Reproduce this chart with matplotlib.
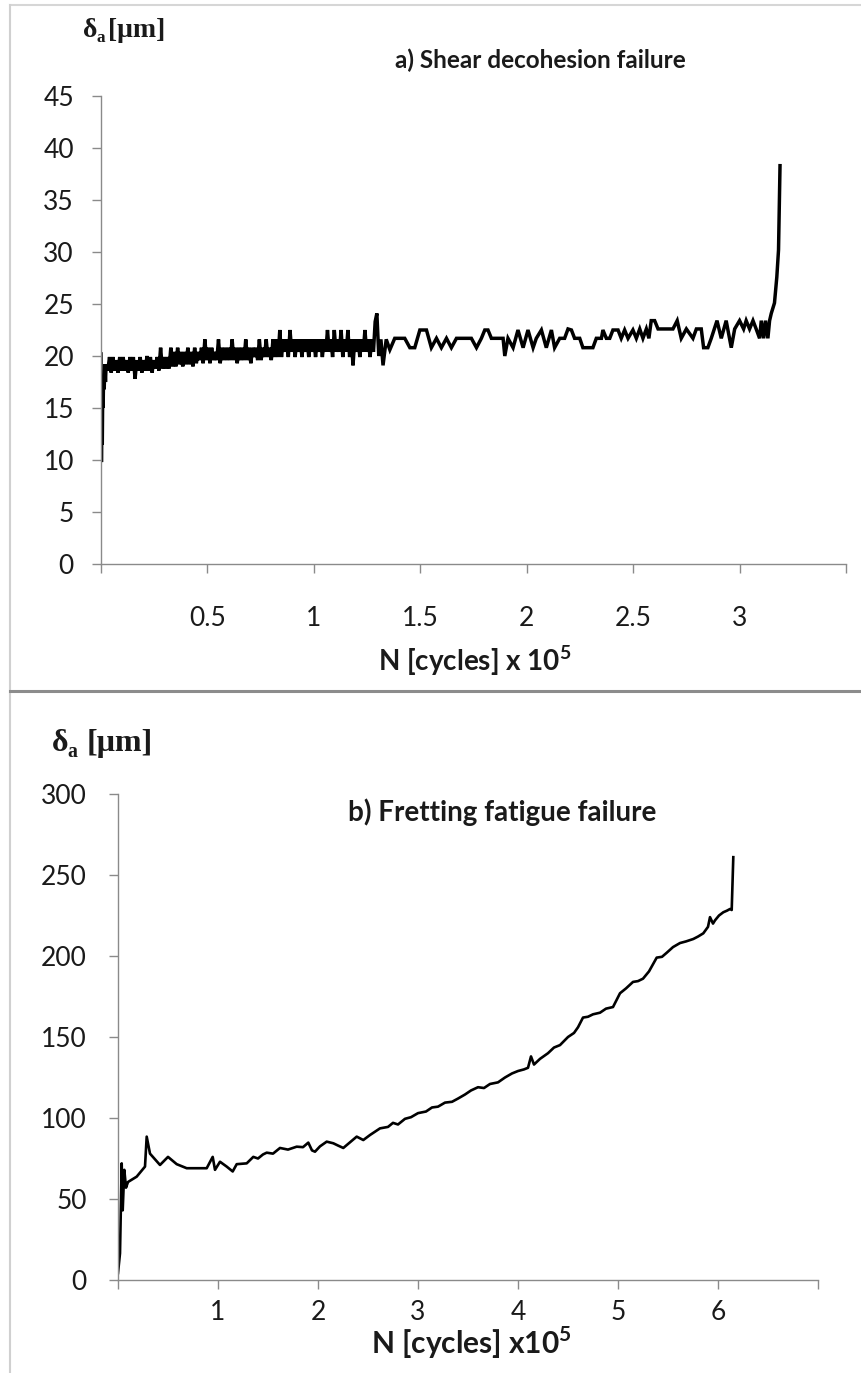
import matplotlib
matplotlib.use("Agg")
import matplotlib.pyplot as plt
from matplotlib.lines import Line2D

# ── a) shear decohesion failure : N [x1e5 cycles] / delta_a [um] ─────────────
n_a = [0.000, 0.002, 0.004, 0.006, 0.008, 0.010, 0.012, 0.015, 0.018, 0.021,
       0.024, 0.032, 0.040, 0.048, 0.056, 0.064, 0.072, 0.080, 0.088, 0.096,
       0.104, 0.112, 0.120, 0.128, 0.136, 0.144, 0.152, 0.160, 0.168, 0.176,
       0.184, 0.192, 0.200, 0.208, 0.216, 0.224, 0.232, 0.240, 0.248, 0.256,
       0.264, 0.272, 0.280, 0.288, 0.296, 0.304, 0.312, 0.320, 0.328, 0.336,
       0.344, 0.352, 0.360, 0.368, 0.376, 0.384, 0.392, 0.400, 0.408, 0.416,
       0.424, 0.432, 0.440, 0.448, 0.456, 0.464, 0.472, 0.480, 0.488, 0.496,
       0.504, 0.512, 0.520, 0.528, 0.536, 0.544, 0.552, 0.560, 0.568, 0.576,
       0.584, 0.592, 0.600, 0.608, 0.616, 0.624, 0.632, 0.640, 0.648, 0.656,
       0.664, 0.672, 0.680, 0.688, 0.696, 0.704, 0.712, 0.720, 0.728, 0.736,
       0.744, 0.752, 0.760, 0.768, 0.776, 0.784, 0.792, 0.800, 0.808, 0.816,
       0.824, 0.832, 0.840, 0.848, 0.856, 0.864, 0.872, 0.880, 0.888, 0.896,
       0.904, 0.912, 0.920, 0.928, 0.936, 0.944, 0.952, 0.960, 0.968, 0.976,
       0.984, 0.992, 1.000, 1.008, 1.016, 1.024, 1.032, 1.040, 1.048, 1.056,
       1.064, 1.072, 1.080, 1.088, 1.096, 1.104, 1.112, 1.120, 1.128, 1.136,
       1.144, 1.152, 1.160, 1.168, 1.176, 1.184, 1.192, 1.200, 1.208, 1.216,
       1.224, 1.232, 1.240, 1.248, 1.256, 1.264, 1.272, 1.280, 1.288, 1.296,
       1.305, 1.315, 1.325, 1.340,
       1.357, 1.380, 1.404, 1.427, 1.451, 1.474, 1.498, 1.529, 1.552, 1.576,
       1.599, 1.623, 1.646, 1.670, 1.740, 1.764, 1.787, 1.803, 1.818, 1.834,
       1.889, 1.897, 1.912, 1.936, 1.959, 1.983, 2.006, 2.030, 2.045, 2.069,
       2.092, 2.116, 2.131, 2.155, 2.178, 2.194, 2.210, 2.225, 2.249, 2.264,
       2.288, 2.311, 2.327, 2.351, 2.358, 2.374, 2.390, 2.405, 2.429, 2.444,
       2.460, 2.476, 2.499, 2.515, 2.531, 2.546, 2.562, 2.574, 2.585, 2.601,
       2.617, 2.687, 2.707, 2.726, 2.750, 2.781, 2.797, 2.820, 2.831, 2.851,
       2.867, 2.894, 2.914, 2.937, 2.961, 2.977, 3.000, 3.019, 3.031, 3.047,
       3.063, 3.078, 3.094, 3.102, 3.113, 3.122, 3.133, 3.141, 3.149, 3.164,
       3.175, 3.183, 3.190]
d_a = [20.2, 9.8, 14.5, 11.5, 16.5, 15.0, 18.0, 16.8, 19.2, 17.5,
       19.2, 18.6, 19.9, 18.4, 19.9, 18.6, 19.6, 18.4, 19.9, 18.6,
       19.9, 18.6, 19.6, 18.4, 19.9, 18.6, 19.9, 17.8, 19.6, 18.6,
       19.9, 18.4, 19.6, 18.6, 20.0, 18.6, 19.9, 18.4, 19.6, 18.8,
       19.9, 18.6, 20.8, 18.8, 19.9, 18.8, 19.9, 18.8, 20.8, 19.0,
       20.4, 19.0, 20.8, 19.2, 20.4, 19.0, 20.4, 19.2, 20.8, 19.2,
       20.4, 19.0, 20.8, 19.3, 20.4, 19.6, 20.8, 19.3, 21.6, 19.6,
       20.8, 19.3, 20.8, 19.6, 20.4, 19.6, 21.6, 19.3, 20.8, 19.6,
       20.8, 19.6, 20.8, 19.6, 21.6, 19.6, 20.8, 19.3, 20.8, 19.6,
       20.8, 19.6, 21.6, 19.6, 20.8, 19.3, 20.8, 19.9, 20.8, 19.6,
       21.6, 19.6, 20.8, 19.9, 21.6, 19.9, 20.8, 19.6, 21.6, 19.9,
       21.6, 19.9, 22.5, 19.9, 21.6, 20.4, 21.6, 19.9, 22.5, 20.4,
       21.6, 19.9, 21.6, 20.4, 21.6, 19.9, 21.6, 20.4, 21.6, 19.9,
       21.6, 20.4, 21.6, 19.9, 21.6, 20.4, 21.6, 19.9, 21.6, 20.4,
       22.5, 20.4, 21.6, 19.9, 22.5, 20.4, 21.6, 20.4, 22.5, 19.9,
       21.6, 20.4, 22.5, 19.9, 21.6, 19.1, 21.6, 20.4, 21.6, 19.9,
       21.6, 20.4, 22.5, 20.4, 21.6, 19.9, 21.6, 20.4, 23.3, 24.1,
       20.0, 21.6, 19.1, 21.6,
       20.6, 21.7, 21.7, 21.7, 20.8, 20.8, 22.5, 22.5, 20.8, 21.7,
       20.8, 21.7, 20.8, 21.7, 21.7, 20.8, 21.7, 22.5, 22.5, 21.7,
       21.7, 20.0, 21.7, 20.8, 22.5, 20.8, 22.5, 20.8, 21.7, 22.5,
       20.8, 22.5, 20.8, 21.7, 21.7, 22.6, 22.5, 21.7, 21.7, 20.8,
       20.8, 20.8, 21.7, 21.7, 22.5, 21.7, 21.7, 22.5, 22.5, 21.7,
       22.5, 21.7, 22.5, 21.7, 22.6, 21.7, 22.6, 21.7, 23.4, 23.4,
       22.6, 22.6, 23.4, 21.7, 22.6, 21.7, 22.6, 22.6, 20.8, 20.8,
       21.7, 23.4, 21.7, 23.4, 20.8, 22.6, 23.4, 22.6, 23.4, 22.6,
       23.4, 22.6, 21.7, 23.4, 21.7, 23.4, 21.7, 23.4, 24.1, 25.1,
       27.6, 30.2, 38.3]

# ── b) fretting fatigue failure ──────────────────────────────────────────────
n_b = [0.00, 0.02, 0.037, 0.047, 0.063, 0.08, 0.10, 0.187, 0.27, 0.287,
       0.32, 0.42, 0.50, 0.587, 0.687, 0.887, 0.947, 0.97, 1.02, 1.087,
       1.147, 1.187, 1.287, 1.353, 1.40, 1.45, 1.487, 1.55, 1.62, 1.70,
       1.787, 1.85, 1.903, 1.94, 1.97, 2.02, 2.087, 2.153, 2.20, 2.253,
       2.32, 2.387, 2.453, 2.52, 2.62, 2.70, 2.75, 2.80, 2.87, 2.93,
       3.00, 3.08, 3.14, 3.20, 3.27, 3.34, 3.40, 3.47, 3.53, 3.60,
       3.66, 3.72, 3.80, 3.87, 3.94, 4.00, 4.06, 4.10, 4.13, 4.16,
       4.22, 4.30, 4.36, 4.42, 4.50, 4.56, 4.60, 4.65, 4.70, 4.75,
       4.82, 4.88, 4.95, 5.02, 5.08, 5.15, 5.20, 5.25, 5.31, 5.387,
       5.44, 5.487, 5.55, 5.62, 5.68, 5.753, 5.80, 5.853, 5.90, 5.92,
       5.95, 5.97, 6.01, 6.053, 6.09, 6.12, 6.137, 6.153]
d_b = [4.3, 16.5, 72.0, 43.0, 68.0, 57.0, 60.5, 63.8, 70.0, 88.5,
       78.0, 71.0, 76.0, 71.5, 69.0, 69.0, 76.0, 68.0, 73.0, 70.0,
       67.0, 71.5, 72.0, 76.0, 75.0, 77.5, 78.6, 78.0, 81.5, 80.5,
       82.3, 82.0, 84.8, 80.0, 79.2, 82.5, 85.4, 84.4, 83.0, 81.5,
       85.0, 88.5, 86.4, 89.5, 93.6, 94.5, 97.0, 96.0, 99.5, 100.5,
       103.0, 104.0, 106.5, 107.0, 109.5, 110.0, 112.0, 114.5, 117.0, 119.0,
       118.5, 121.0, 122.0, 125.0, 127.5, 129.0, 130.0, 131.0, 138.0, 133.0,
       136.5, 140.0, 143.5, 145.0, 150.0, 152.5, 156.0, 162.0, 162.5, 164.0,
       165.0, 167.5, 168.5, 177.0, 180.0, 184.0, 184.5, 186.0, 190.5, 199.0,
       199.5, 202.0, 205.5, 208.0, 209.0, 210.5, 212.0, 214.0, 218.0, 224.0,
       220.0, 222.0, 225.0, 227.0, 228.0, 229.0, 228.4, 261.0]

xticks_a = [0, 0.5, 1, 1.5, 2, 2.5, 3, 3.5]
xlabels_a = ["", "0.5", "1", "1.5", "2", "2.5", "3", ""]
yticks_a = [0, 5, 10, 15, 20, 25, 30, 35, 40, 45]
xticks_b = [0, 1, 2, 3, 4, 5, 6, 7]
xlabels_b = ["", "1", "2", "3", "4", "5", "6", ""]
yticks_b = [0, 50, 100, 150, 200, 250, 300]

W, H = 862, 1373
AXIS_GREY = "#8a8a8a"
TXT = "#1a1a1a"
SANS = "Lato"

plt.rcParams["font.family"] = [SANS, "DejaVu Sans"]
plt.rcParams["mathtext.fontset"] = "custom"
plt.rcParams["mathtext.rm"] = SANS
plt.rcParams["mathtext.bf"] = SANS + ":bold"

fig = plt.figure(figsize=(W / 100, H / 100), dpi=100)


def fx(px):
    return px / W


def fy(py):
    return 1 - py / H


def style_axes(ax, xpad, ypad):
    for s in ("top", "right"):
        ax.spines[s].set_visible(False)
    for s in ("left", "bottom"):
        ax.spines[s].set_color(AXIS_GREY)
        ax.spines[s].set_linewidth(1.0)
    ax.tick_params(axis="both", color=AXIS_GREY, width=1.0, length=6.5,
                   labelsize=19, labelcolor=TXT)
    ax.tick_params(axis="x", pad=xpad)
    ax.tick_params(axis="y", pad=ypad)


def delta_label(px, py, size, gap):
    # px, py : left / baseline of the serif "delta_a [um]" label, in pixels
    kw = dict(family="Liberation Serif", weight="bold", color=TXT, va="baseline")
    k = size / 23.0
    fig.text(fx(px), fy(py), "δ", size=size, **kw)
    fig.text(fx(px + 15 * k), fy(py + 6 * k), "a", size=size * 0.62, **kw)
    fig.text(fx(px + gap), fy(py), "[μm]", size=size, **kw)


# ── panel a ───────────────────────────────────────────────────────────────────
ax1 = fig.add_axes([fx(101), fy(564), fx(846) - fx(101), fy(96) - fy(564)])
ax1.plot(n_a, d_a, color="black", linewidth=2.5, solid_joinstyle="miter")
ax1.set_xlim(0, 3.5)
ax1.set_ylim(0, 45)
ax1.set_xticks(xticks_a)
ax1.set_xticklabels(xlabels_a)
ax1.set_yticks(yticks_a)
style_axes(ax1, xpad=24, ypad=13)

fig.text(fx(540), fy(60), "a) Shear decohesion failure", ha="center", va="center",
         size=17.5, weight="bold", color=TXT)
fig.text(fx(475), fy(661), r"N [cycles] x 10$^{\mathbf{5}}$", ha="center",
         va="center", size=20, weight="bold", color=TXT)
delta_label(83, 37, 20, 25)

# ── panel b ───────────────────────────────────────────────────────────────────
ax2 = fig.add_axes([fx(118), fy(1280), fx(818) - fx(118), fy(794) - fy(1280)])
ax2.plot(n_b, d_b, color="black", linewidth=1.9)
ax2.set_xlim(0, 7)
ax2.set_ylim(0, 300)
ax2.set_xticks(xticks_b)
ax2.set_xticklabels(xlabels_b)
ax2.set_yticks(yticks_b)
style_axes(ax2, xpad=8, ypad=16)

fig.text(fx(502), fy(812), "b) Fretting fatigue failure", ha="center", va="center",
         size=20, weight="bold", color=TXT)
fig.text(fx(471), fy(1343), r"N [cycles] x10$^{\mathbf{5}}$", ha="center",
         va="center", size=21.5, weight="bold", color=TXT)
delta_label(52, 751, 23, 35)

# ── frame lines around the two charts ────────────────────────────────────────
fig.add_artist(Line2D([fx(10), 1], [fy(5), fy(5)], color="#d6d6d6", linewidth=1.5))
fig.add_artist(Line2D([fx(10), fx(10)], [fy(5), 0], color="#d0d0d0", linewidth=1.5))
fig.add_artist(Line2D([fx(10), 1], [fy(691), fy(691)], color="#8c8c8c", linewidth=2.2))

fig.savefig("out.png", dpi=100)
